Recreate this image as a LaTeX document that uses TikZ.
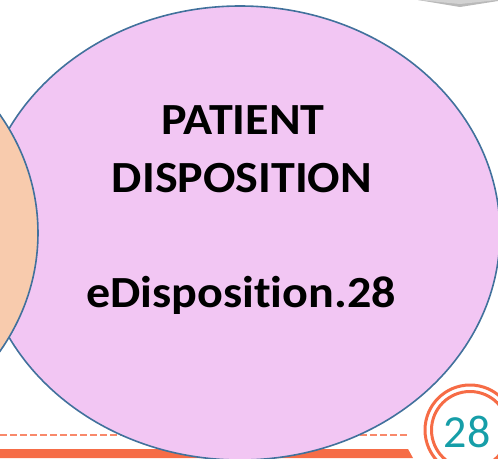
\documentclass[tikz,border=0pt]{standalone}
\usepackage{fontspec}
\setmainfont{Carlito}[Ligatures=NoCommon]
\usepackage{tikz, graphicx}
\definecolor{lilapink}{RGB}{242,198,243}
\definecolor{pfirsich}{RGB}{248,203,173}
\definecolor{randblau}{RGB}{65,113,156}
\definecolor{koralle}{RGB}{246,108,70}
\definecolor{petrol}{RGB}{22,158,168}
\usetikzlibrary{shapes,arrows}
\newcommand{\breit}[1]{\scalebox{1.08}[1]{#1}}

\begin{document}
\begin{tikzpicture}[x=1pt, y=-1pt,
				blase/.style={draw=randblau, line width=1.6pt, ellipse, minimum width=520pt, minimum height=454pt, inner sep=0pt},
				titel/.style={font=\fontsize{44.5}{53}\selectfont\bfseries, anchor=base}]
				%Bildbereich
				\useasboundingbox (0,0) rectangle (498,458);
				%graue Form oben rechts
				\fill[gray!55] (418,0) -- (460,7) -- (498,1) -- (498,0) -- cycle;
				\fill[gray!35] (418,0) -- (460,4) -- (498,0) -- cycle;
				% Fusszeile
				\fill[koralle] (0,449) -- (408,449) -- (413,458) -- (0,458) -- cycle;
				\draw[koralle!80, line width=2.5pt, dash pattern=on 7pt off 3pt] (0,435) -- (407,435);
				% Ellipsen
				\node[blase, fill=lilapink] (disposition) at (240,233) {};
				\node[blase, fill=pfirsich] (nachbar) at (-222,233) {};
				% Beschriftung
				\node[titel] (zeile1) at (243,134) {\breit{PATIENT}};
				\node[titel] (zeile2) at (242,192) {\breit{DISPOSITION}};
				\node[titel] (zeile3) at (241,307) {\breit{eDisposition.28}};
				% Seitenzahl
				\node[font=\fontsize{46}{55}\selectfont, text=petrol, anchor=base, inner sep=0pt] (seite) at (467,447) {28};
				\coordinate (kreismitte) at (470,430);
				\draw[koralle, line width=3pt] (kreismitte) circle[radius=45pt];
				\draw[koralle, line width=3pt] (kreismitte) circle[radius=38.5pt];
			\end{tikzpicture}
\end{document}
